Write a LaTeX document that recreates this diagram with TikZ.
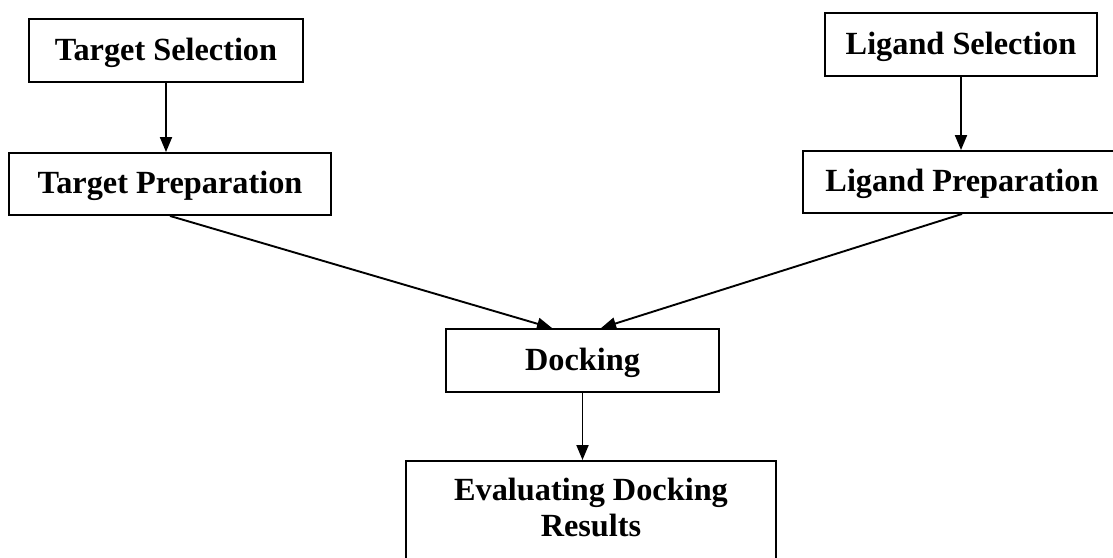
\documentclass[tikz,border=0pt]{standalone}
\usepackage{fontspec}
\setmainfont{Liberation Serif}
\usetikzlibrary{arrows.meta}
\begin{document}
\begin{tikzpicture}[x=1pt,y=1pt,
  box/.style={draw=black, line width=1.9pt, inner sep=0pt, font=\fontsize{32.3}{36}\selectfont\bfseries},
  single/.style={box, text height=26pt, text depth=6.5pt},
  conn/.style={line width=1.9pt, -{Triangle[length=15pt,width=12pt]}}]
\useasboundingbox (0,0) rectangle (1113,-557);
\node[single, minimum width=274pt, minimum height=63pt] (ts) at (166,-50.5) {Target Selection};
\node[single, minimum width=272pt, minimum height=63pt] (ls) at (961,-44.5) {Ligand Selection};
\node[single, minimum width=322pt, minimum height=62pt] (tp) at (170,-184) {Target Preparation};
\node[single, minimum width=318pt, minimum height=62pt] (lp) at (962,-182) {Ligand Preparation};
\node[single, minimum width=273pt, minimum height=63pt] (dk) at (582.5,-360.5) {Docking};
\node[box, anchor=north] (ev) at (591,-460) {\parbox[c][120pt][t]{370pt}{\centering\vspace{17pt}Evaluating Docking\\Results}};
\draw[conn] (ts.south) -- (ts.south |- tp.north);
\draw[conn] (ls.south) -- (ls.south |- lp.north);
\draw[conn] (tp.south) -- ([xshift=107pt]dk.north west);
\draw[conn] (lp.south) -- ([xshift=156pt]dk.north west);
\draw[conn] (dk.south) -- (dk.south |- ev.north);
\end{tikzpicture}
\end{document}
